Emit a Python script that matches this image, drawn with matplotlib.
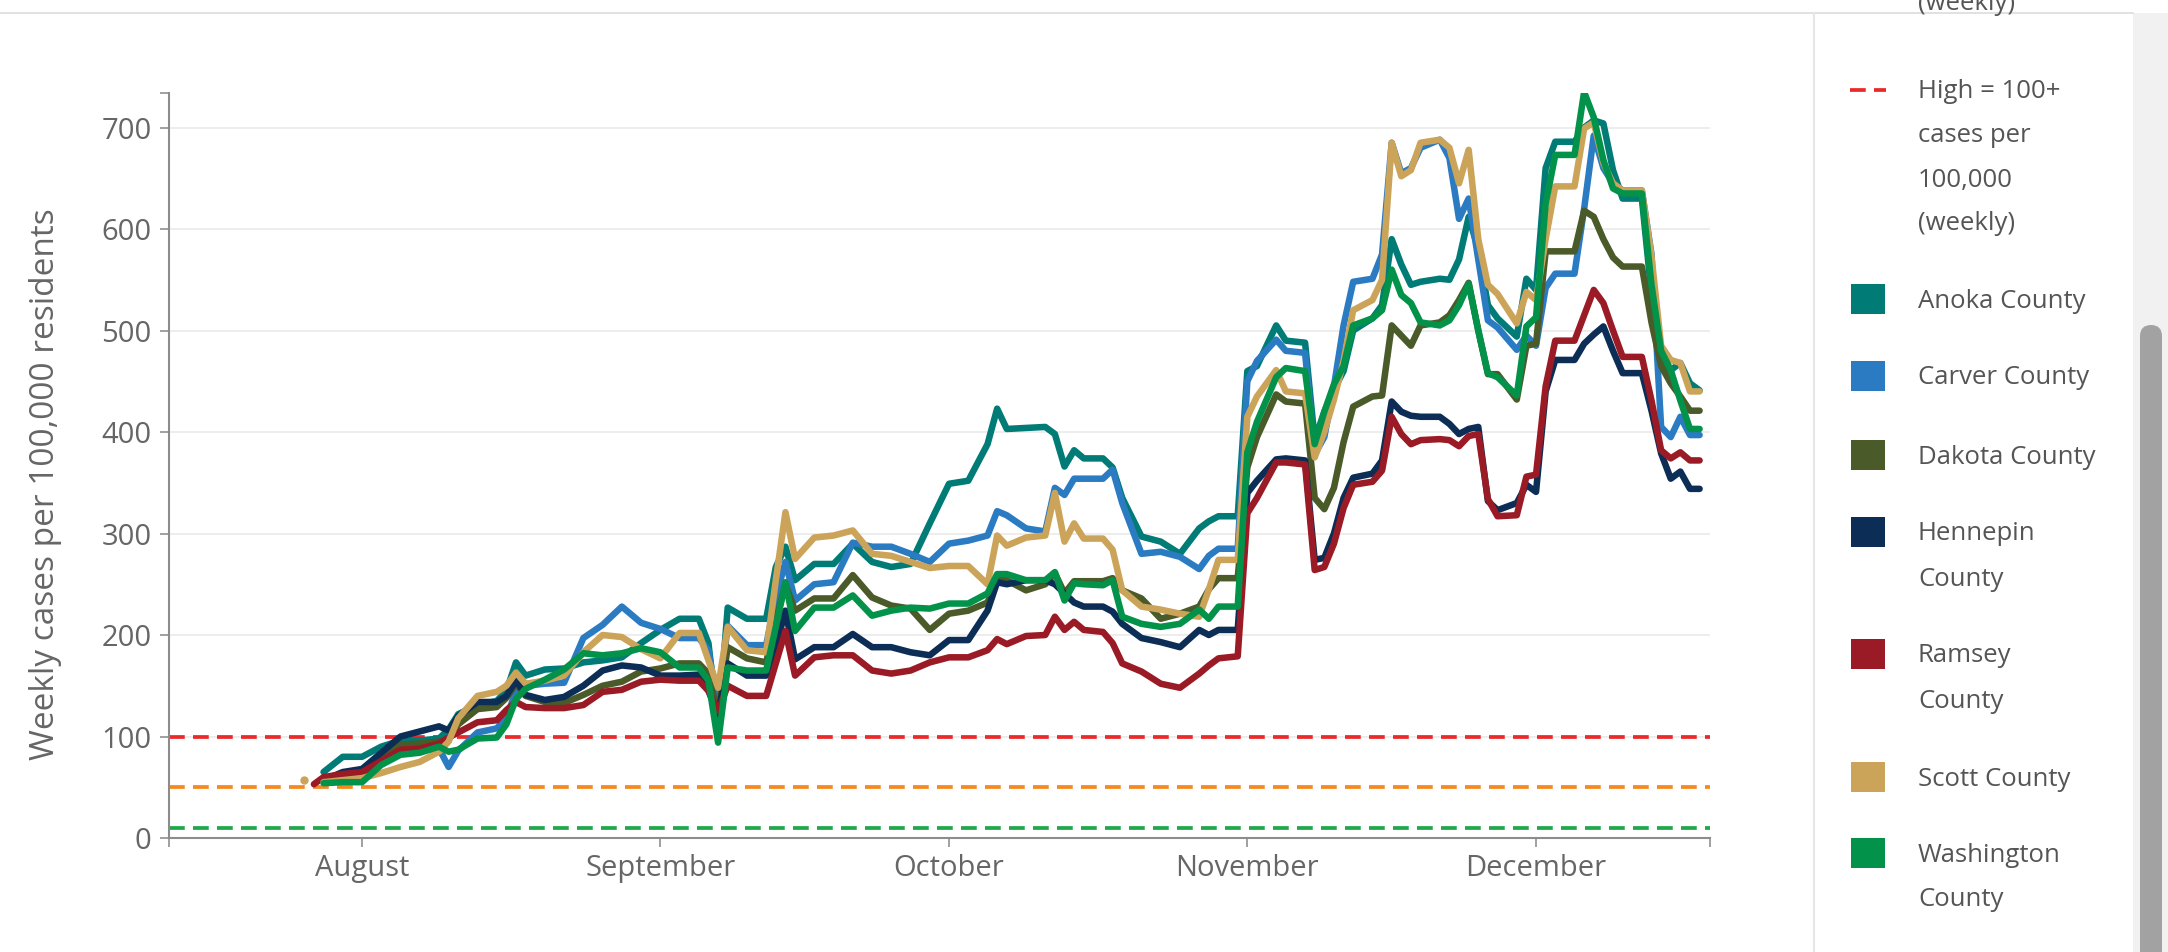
import numpy as np
import matplotlib
matplotlib.use('Agg')
import matplotlib.pyplot as plt
from matplotlib.patches import Rectangle, FancyBboxPatch
from matplotlib.lines import Line2D

plt.rcParams['font.family'] = ['Open Sans', 'DejaVu Sans']

nan = np.nan

# days counted from August 1
days = [-5, -4, -2, 0, 2, 4, 6, 8, 9, 10, 12, 14, 15, 16, 17, 19, 21, 23, 25, 27, 29, 31, 33, 35, 36,
        37, 38, 40, 42, 43, 44, 45, 47, 49, 51, 53, 55, 57, 59, 61, 63, 65, 66, 67,
        69, 71, 72, 73, 74, 75, 77, 78, 79, 81, 83, 85, 87, 88, 89, 91,
        92, 93, 95, 96, 98, 99, 100, 101, 102, 103, 105, 106, 107, 108, 109, 110, 112, 113, 114, 115, 116, 117, 118,
        120, 121, 122, 123, 124, 126, 127, 128, 129, 130, 131, 133, 134, 135, 136, 137, 138, 139]

anoka = [nan, 65, 80, 80, 90, 96, 96, 98, 107, 122, 131, 135, 145, 173, 160, 166, 167, 173, 175, 178, 192, 205, 216, 216, 192,
         108, 227, 216, 216, 267, 287, 254, 270, 270, 290, 272, 267, 270, 310, 349, 352, 388, 423, 403,
         404, 405, 398, 366, 382, 374, 374, 365, 335, 297, 292, 280, 305, 312, 317, 317,
         460, 465, 505, 490, 488, 392, 420, 442, 460, 500, 512, 525, 590, 565, 545, 548, 551, 550, 570, 612, 580, 525, 512,
         494, 551, 540, 660, 686, 686, 700, 707, 704, 658, 630, 630, 536, 470, 461, 468, 448, 441]

carver = [nan, 57, 62, 64, 75, 84, 86, 88, 70, 86, 104, 108, 118, 145, 150, 152, 153, 197, 210, 228, 212, 206, 197, 197, 185,
          130, 209, 190, 190, 237, 272, 234, 250, 252, 291, 287, 287, 280, 272, 290, 293, 298, 322, 318,
          305, 302, 345, 338, 354, 354, 354, 363, 330, 280, 282, 277, 265, 278, 285, 285,
          450, 470, 491, 480, 478, 378, 395, 445, 505, 548, 551, 575, 685, 655, 660, 680, 688, 670, 610, 630, 570, 510, 503,
          481, 495, 485, 542, 556, 556, 620, 692, 660, 645, 638, 638, 575, 405, 395, 415, 397, 397]

dakota = [nan, 57, 62, 63, 77, 92, 93, 95, 97, 112, 127, 129, 138, 152, 140, 134, 133, 141, 150, 154, 164, 167, 172, 172, 162,
          122, 188, 177, 173, 214, 250, 224, 236, 236, 259, 237, 229, 226, 205, 221, 224, 232, 254, 254,
          244, 250, 261, 241, 253, 253, 253, 256, 244, 236, 216, 221, 228, 245, 256, 256,
          365, 395, 437, 430, 428, 335, 324, 345, 390, 425, 435, 436, 505, 495, 485, 505, 508, 515, 530, 547, 500, 457, 457,
          432, 485, 487, 578, 578, 578, 618, 612, 590, 572, 563, 563, 508, 465, 448, 435, 421, 421]

hennepin = [nan, 57, 65, 68, 84, 100, 105, 110, 106, 120, 134, 134, 140, 155, 141, 136, 139, 150, 165, 170, 168, 160, 160, 161, 145,
            122, 172, 160, 160, 188, 224, 176, 188, 188, 201, 188, 188, 183, 180, 195, 195, 224, 252, 250,
            254, 254, 250, 241, 232, 228, 228, 223, 211, 197, 193, 188, 205, 200, 205, 205,
            340, 352, 373, 374, 372, 274, 276, 300, 335, 355, 359, 372, 430, 420, 416, 415, 415, 408, 398, 403, 405, 332, 323,
            330, 348, 341, 440, 471, 471, 487, 496, 504, 480, 458, 458, 421, 379, 354, 361, 344, 344]

ramsey = [53, 60, 63, 65, 76, 87, 88, 93, 99, 104, 114, 116, 126, 134, 129, 128, 128, 131, 144, 146, 154, 156, 155, 155, 145,
          125, 150, 140, 140, 172, 204, 160, 178, 180, 180, 165, 162, 165, 173, 178, 178, 185, 196, 191,
          199, 200, 218, 205, 213, 205, 203, 192, 172, 164, 152, 148, 162, 170, 177, 179,
          320, 335, 370, 370, 368, 264, 267, 290, 325, 348, 351, 362, 415, 398, 388, 392, 393, 392, 386, 396, 398, 334, 317,
          318, 356, 358, 445, 490, 490, 515, 540, 527, 500, 474, 474, 431, 382, 374, 380, 372, 372]

scott = [nan, 55, 57, 59, 64, 70, 75, 85, 95, 118, 140, 144, 150, 163, 152, 155, 160, 183, 200, 198, 186, 177, 202, 202, 175,
         148, 208, 185, 183, 254, 321, 275, 296, 298, 303, 280, 278, 272, 266, 268, 268, 250, 298, 288,
         296, 298, 340, 292, 310, 295, 295, 284, 244, 228, 225, 221, 218, 245, 274, 274,
         415, 435, 461, 440, 438, 375, 400, 432, 470, 520, 530, 550, 685, 652, 658, 685, 688, 680, 645, 678, 590, 545, 536,
         507, 538, 530, 590, 642, 642, 699, 705, 665, 645, 638, 638, 573, 485, 471, 468, 440, 440]

washington = [nan, 54, 55, 55, 72, 82, 84, 90, 85, 87, 98, 99, 112, 137, 147, 156, 166, 182, 180, 182, 187, 183, 168, 168, 155,
              94, 168, 165, 165, 208, 252, 204, 227, 227, 239, 219, 224, 227, 226, 231, 231, 241, 260, 260,
              254, 254, 262, 234, 251, 250, 249, 254, 218, 211, 208, 211, 225, 216, 228, 228,
              380, 410, 454, 463, 460, 388, 420, 447, 465, 505, 512, 520, 560, 535, 527, 508, 505, 510, 525, 546, 500, 458, 454,
              436, 504, 513, 625, 673, 673, 735, 710, 668, 640, 635, 635, 545, 480, 461, 431, 403, 403]

scott_isolated_day = [-6]
scott_isolated_value = [57]

series_names = ['Anoka County', 'Carver County', 'Dakota County', 'Hennepin County',
                'Ramsey County', 'Scott County', 'Washington County']
legend_lines = [['Anoka County'], ['Carver County'], ['Dakota County'], ['Hennepin', 'County'],
                ['Ramsey', 'County'], ['Scott County'], ['Washington', 'County']]
series_values = [anoka, carver, dakota, hennepin, ramsey, scott, washington]
series_colors = ['#007b76', '#2a7bc2', '#4a5a28', '#0c2d55', '#9a1b25', '#cba45a', '#03924a']

month_ticks = [0, 31, 61, 92, 122]
month_labels = ['August', 'September', 'October', 'November', 'December']
y_ticks = [0, 100, 200, 300, 400, 500, 600, 700]
threshold_values = [100, 50, 10]
threshold_colors = ['#ea2a2a', '#f5891f', '#1fa84a']
high_label = ['High = 100+', 'cases per', '100,000', '(weekly)']

W, H = 2168, 952
fig = plt.figure(figsize=(W / 100, H / 100), dpi=100)
fig.patch.set_facecolor('white')


def fx(px):
    return px / W


def fy(py):
    return 1 - py / H


x0, x1 = -20.06, 140.08
ax = fig.add_axes([fx(169), fy(838), fx(1710) - fx(169), fy(93) - fy(838)])
ax.set_xlim(x0, x1)
ax.set_ylim(0, 734)

ax.set_yticks(y_ticks)
ax.yaxis.grid(True, color='#ececec', lw=1.3)
ax.set_axisbelow(True)

dash = (4.2, 2.2)
for v, c in zip(threshold_values, threshold_colors):
    ax.axhline(v, color=c, lw=2.7, dashes=dash, zorder=2)

for vals, c in zip(series_values, series_colors):
    ax.plot(days, vals, color=c, lw=4.7, solid_joinstyle='round', solid_capstyle='round', zorder=3)
ax.plot(scott_isolated_day, scott_isolated_value, 'o', ms=5, color=series_colors[5], zorder=3)

for s in ['top', 'right']:
    ax.spines[s].set_visible(False)
for s in ['left', 'bottom']:
    ax.spines[s].set_color('#8c8c8c')
    ax.spines[s].set_linewidth(1.5)

ax.set_xticks(month_ticks)
ax.set_xticklabels(month_labels)
ax.set_xticks([x0, x1], minor=True)
ax.set_yticks([734], minor=True)
ax.tick_params(axis='both', which='both', direction='out', length=6.5, width=1.3,
               color='#999999', labelcolor='#666666', labelsize=21)
ax.tick_params(axis='x', which='major', pad=5)
ax.tick_params(axis='y', which='major', pad=6)

ax.set_ylabel('Weekly cases per 100,000 residents', fontsize=24, color='#666666')
ax.yaxis.set_label_coords(-0.0695, 0.475)

# page chrome: top rule, legend separator, scroll track
fig.add_artist(Line2D([0, fx(2133)], [fy(13), fy(13)], transform=fig.transFigure, color='#dcdcdc', lw=1.2))
fig.add_artist(Line2D([fx(1814), fx(1814)], [fy(13), 0], transform=fig.transFigure, color='#e6e6e6', lw=1.5))
fig.add_artist(Rectangle((fx(2133), 0), fx(2168) - fx(2133), fy(13), transform=fig.transFigure,
                         color='#f1f1f1', lw=0))
fig.add_artist(FancyBboxPatch((21.40, -0.2), 0.22, (952 - 325) / 100 + 0.2,
                              boxstyle='round,pad=0,rounding_size=0.11',
                              transform=fig.dpi_scale_trans, color='#a2a2a2', lw=0))

# legend
tx = fx(1918)
legend_color = '#555555'
fs = 18.5
fig.text(tx, fy(4), '(weekly)', fontsize=fs, color=legend_color, va='center', ha='left')
fig.add_artist(Line2D([fx(1850), fx(1886)], [fy(90), fy(90)], transform=fig.transFigure,
                      color=threshold_colors[0], lw=2.7, dashes=dash))
for i, t in enumerate(high_label):
    fig.text(tx, fy(92 + 44 * i), t, fontsize=fs, color=legend_color, va='center', ha='left')

item_y = [299, 376, 455, 532, 654, 777, 853]
for yy, lines, c in zip(item_y, legend_lines, series_colors):
    fig.add_artist(Rectangle((fx(1851), fy(yy + 15)), fx(1885) - fx(1851), fy(yy - 15) - fy(yy + 15),
                             transform=fig.transFigure, color=c, lw=0))
    for j, t in enumerate(lines):
        fig.text(tx, fy(yy + 2 + 45 * j), t, fontsize=fs, color=legend_color, va='center', ha='left')

fig.savefig('out.png', dpi=100, facecolor='white')
